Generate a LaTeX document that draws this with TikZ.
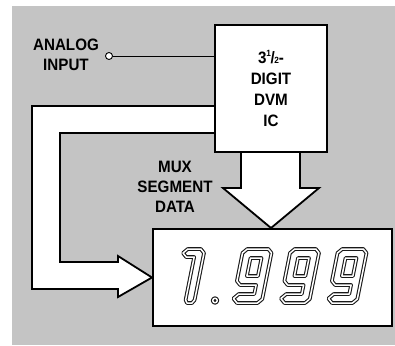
\documentclass[tikz,border=0pt]{standalone}
\usepackage{fontspec}
\setmainfont{Liberation Sans}[FakeStretch=0.92]
\usetikzlibrary{calc}
\definecolor{bggray}{RGB}{196,196,196}
\pgfdeclarelayer{backlayer}
\pgfdeclarelayer{midlayer}
\pgfsetlayers{backlayer,midlayer,main}
\newcommand\ninedigit[1]{%
  \begin{scope}[shift={(#1,303)}, yscale=-1, xslant=-0.2]
    \draw[seg] (0,4.5) -- (4.5,0) -- (25,0) -- (29,4) -- (29,50) -- (25,54)
      -- (4,54) -- (0,50) -- (0,22) -- (4,18) -- (20,18) -- (20,9) -- (4.5,9) -- cycle;
    \draw[seg] (9,27) rectangle (20,45);
  \end{scope}}
\begin{document}
\begin{tikzpicture}[x=1pt,y=-1pt,
  lbl/.style={font=\fontsize{16.5}{20}\selectfont\bfseries, align=center, inner sep=0pt},
  box/.style={draw=black, fill=white, line width=2pt, inner sep=0pt},
  hollow/.style={draw=black, fill=white, line width=1.8pt, line join=miter},
  seg/.style={draw=black!90, line width=1.1pt, double=white, double distance=1.5pt, line join=round},
  pin/.style={circle, draw=black, fill=white, line width=0.9pt, minimum size=7pt, inner sep=0pt},
  wire/.style={draw=black, line width=1pt}]
\useasboundingbox (0,0) rectangle (395,345);
\begin{pgfonlayer}{backlayer}
  \fill[bggray] (12,6) rectangle (395,345);
\end{pgfonlayer}

% blocks
\node[box, minimum width=112pt, minimum height=127pt, lbl, font=\fontsize{16.5}{21}\selectfont\bfseries] (dvm) at (271,88.5)
  {3\raisebox{0.4em}{\fontsize{9}{9}\selectfont 1}\kern-0.5pt/\kern-0.5pt{\fontsize{9}{9}\selectfont 2}-\\DIGIT\\DVM\\IC};
\node[box, minimum width=239pt, minimum height=97pt] (disp) at (272.5,277.5) {};

% labels
\node[lbl] (alab) at (66,55) {ANALOG\\INPUT};
\node[lbl] (mux) at (175,187) {MUX\\SEGMENT\\DATA};

% analog input
\node[pin] (in) at (109,56) {};
\draw[wire] (in) -- (in -| dvm.west);

% hollow arrows
\begin{pgfonlayer}{midlayer}
  \draw[hollow] (215,106) -- (32,106) -- (32,289) -- (118,289) -- (118,297)
    -- (disp.west) -- (118,256) -- (118,262) -- (60,262) -- (60,133) -- (215,133) -- cycle;
  \draw[hollow] (241,152) -- (241,188) -- (223,188) -- (dvm.south |- disp.north)
    -- (319,188) -- (300,188) -- (300,152) -- cycle;
\end{pgfonlayer}

% digits 1.999
\begin{scope}[shift={(173,303)}, yscale=-1, xslant=-0.2]
  \draw[seg] (14,0) -- (19,0) -- (21,3) -- (21,50) -- (17,54) -- (4,54) -- (0,50)
    -- (4,46) -- (12,46) -- (12,3) -- cycle;
\end{scope}
\draw[seg] (215,300.5) circle (2.3);
\ninedigit{232.5}
\ninedigit{280}
\ninedigit{327.5}
\end{tikzpicture}
\end{document}
